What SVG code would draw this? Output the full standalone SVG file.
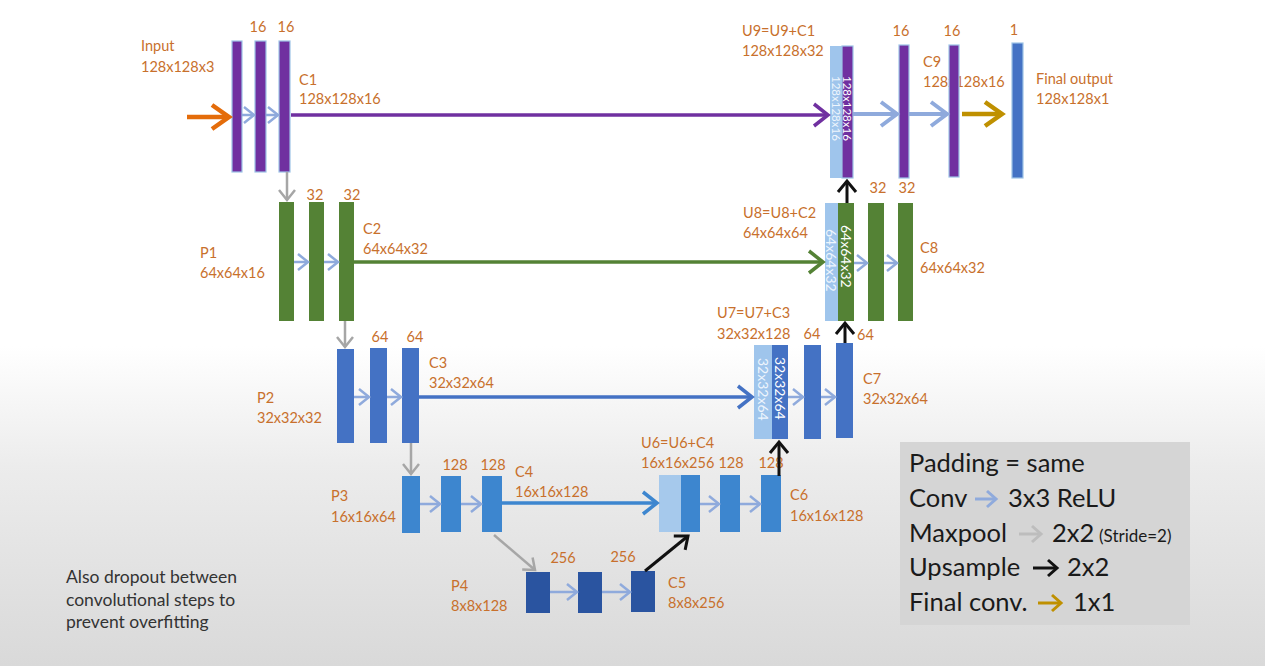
<svg xmlns="http://www.w3.org/2000/svg" width="1265" height="666" viewBox="0 0 1265 666">
<defs>
<linearGradient id="bg" x1="0" y1="0" x2="0" y2="1">
<stop offset="0" stop-color="#ffffff"/>
<stop offset="0.52" stop-color="#ffffff"/>
<stop offset="0.7" stop-color="#ececec"/>
<stop offset="1" stop-color="#d9d9d9"/>
</linearGradient>
<marker id="mP" viewBox="-20 -15 26 30" refX="0" refY="0" markerWidth="26" markerHeight="30" markerUnits="userSpaceOnUse" orient="auto"><path d="M-14,-11 L0,0 L-14,11" fill="none" stroke="#7030a0" stroke-width="3.5"/></marker>
<marker id="mG" viewBox="-20 -15 26 30" refX="0" refY="0" markerWidth="26" markerHeight="30" markerUnits="userSpaceOnUse" orient="auto"><path d="M-14,-11 L0,0 L-14,11" fill="none" stroke="#548235" stroke-width="3.5"/></marker>
<marker id="mB3" viewBox="-20 -15 26 30" refX="0" refY="0" markerWidth="26" markerHeight="30" markerUnits="userSpaceOnUse" orient="auto"><path d="M-14,-11 L0,0 L-14,11" fill="none" stroke="#4472c4" stroke-width="3.5"/></marker>
<marker id="mB4" viewBox="-20 -15 26 30" refX="0" refY="0" markerWidth="26" markerHeight="30" markerUnits="userSpaceOnUse" orient="auto"><path d="M-14,-11 L0,0 L-14,11" fill="none" stroke="#3d86cf" stroke-width="3.5"/></marker>
<marker id="mCB" viewBox="-22 -16 28 32" refX="0" refY="0" markerWidth="28" markerHeight="32" markerUnits="userSpaceOnUse" orient="auto"><path d="M-16,-12 L0,0 L-16,12" fill="none" stroke="#8faadc" stroke-width="4"/></marker>
<marker id="mGold" viewBox="-22 -16 28 32" refX="0" refY="0" markerWidth="28" markerHeight="32" markerUnits="userSpaceOnUse" orient="auto"><path d="M-17,-12 L0,0 L-17,12" fill="none" stroke="#bf9000" stroke-width="4.5"/></marker>
<marker id="mOr" viewBox="-22 -16 28 32" refX="0" refY="0" markerWidth="28" markerHeight="32" markerUnits="userSpaceOnUse" orient="auto"><path d="M-17,-12 L0,0 L-17,12" fill="none" stroke="#e46c0a" stroke-width="4.5"/></marker>
<marker id="mC" viewBox="-14 -11 18 22" refX="0" refY="0" markerWidth="18" markerHeight="22" markerUnits="userSpaceOnUse" orient="auto"><path d="M-10,-8 L0,0 L-10,8" fill="none" stroke="#8faadc" stroke-width="2.5"/></marker>
<marker id="mPool" viewBox="-14 -11 18 22" refX="0" refY="0" markerWidth="18" markerHeight="22" markerUnits="userSpaceOnUse" orient="auto"><path d="M-10,-8 L0,0 L-10,8" fill="none" stroke="#a6a6a6" stroke-width="2.5"/></marker>
<marker id="mUp" viewBox="-14 -12 18 24" refX="0" refY="0" markerWidth="18" markerHeight="24" markerUnits="userSpaceOnUse" orient="auto"><path d="M-11,-9 L0,0 L-11,9" fill="none" stroke="#111111" stroke-width="3"/></marker>
<marker id="lC" viewBox="-14 -12 18 24" refX="0" refY="0" markerWidth="18" markerHeight="24" markerUnits="userSpaceOnUse" orient="auto"><path d="M-9,-8 L0,0 L-9,8" fill="none" stroke="#8faadc" stroke-width="3"/></marker>
<marker id="lP" viewBox="-14 -12 18 24" refX="0" refY="0" markerWidth="18" markerHeight="24" markerUnits="userSpaceOnUse" orient="auto"><path d="M-9,-8 L0,0 L-9,8" fill="none" stroke="#bdbdbd" stroke-width="3"/></marker>
<marker id="lU" viewBox="-14 -12 18 24" refX="0" refY="0" markerWidth="18" markerHeight="24" markerUnits="userSpaceOnUse" orient="auto"><path d="M-9,-8 L0,0 L-9,8" fill="none" stroke="#111111" stroke-width="3"/></marker>
<marker id="lG" viewBox="-14 -12 18 24" refX="0" refY="0" markerWidth="18" markerHeight="24" markerUnits="userSpaceOnUse" orient="auto"><path d="M-9,-8 L0,0 L-9,8" fill="none" stroke="#bf9000" stroke-width="3"/></marker>
</defs>
<style>
text{font-family:Lato,"Liberation Sans",sans-serif}
.lbl{font-size:14.5px;fill:#c8702c}
.ctr{text-anchor:middle}
.vt{fill:#ffffff;dominant-baseline:central}
.vtl{fill:#eef5fd;dominant-baseline:central}
.leg{font-size:25.5px;fill:#1a1a1a}
.note{font-size:17.5px;fill:#333333}
.pu{fill:#7030a0;stroke:#9dc3e6;stroke-width:1.2}
.gr{fill:#548235}
.b3{fill:#4472c4}
.b4{fill:#3d86cf}
.b5{fill:#2a54a0}
.lt{fill:#9fc5ec}
.fin{fill:#4472c4;stroke:#9dc3e6;stroke-width:1.2}
.skP{stroke:#7030a0;stroke-width:3.5;fill:none}
.skG{stroke:#548235;stroke-width:3.5;fill:none}
.skB3{stroke:#4472c4;stroke-width:3.5;fill:none}
.skB4{stroke:#3d86cf;stroke-width:3.5;fill:none}
.cv{stroke:#8faadc;stroke-width:2.5;fill:none}
.cvb{stroke:#8faadc;stroke-width:4;fill:none}
.pl{stroke:#a6a6a6;stroke-width:2.5;fill:none}
.up{stroke:#111111;stroke-width:3;fill:none}
</style>
<rect x="0" y="0" width="1265" height="666" fill="url(#bg)"/>

<g id="input">
<text class="lbl" x="141" y="51">Input</text>
<text class="lbl" x="141" y="72">128x128x3</text>
</g>

<g id="c1">
<rect class="pu" x="232" y="41" width="10" height="131"/>
<rect class="pu" x="255" y="41" width="11" height="131"/>
<rect class="pu" x="279" y="41" width="11" height="131"/>
<text class="lbl ctr" x="258" y="32">16</text>
<text class="lbl ctr" x="286" y="32">16</text>
<text class="lbl" x="299" y="85">C1</text>
<text class="lbl" x="299" y="104">128x128x16</text>
</g>

<g id="p1c2">
<rect class="gr" x="279" y="202" width="15" height="119"/>
<rect class="gr" x="309" y="202" width="15" height="119"/>
<rect class="gr" x="339" y="202" width="15" height="119"/>
<text class="lbl ctr" x="315" y="200">32</text>
<text class="lbl ctr" x="352" y="200">32</text>
<text class="lbl" x="200" y="258">P1</text>
<text class="lbl" x="200" y="278">64x64x16</text>
<text class="lbl" x="363" y="234">C2</text>
<text class="lbl" x="363" y="254">64x64x32</text>
</g>

<g id="p2c3">
<rect class="b3" x="337" y="349" width="17" height="94"/>
<rect class="b3" x="370" y="348" width="17" height="95"/>
<rect class="b3" x="402" y="348" width="17" height="95"/>
<text class="lbl ctr" x="380" y="342">64</text>
<text class="lbl ctr" x="415" y="342">64</text>
<text class="lbl" x="257" y="403">P2</text>
<text class="lbl" x="257" y="423">32x32x32</text>
<text class="lbl" x="429" y="368">C3</text>
<text class="lbl" x="429" y="388">32x32x64</text>
</g>

<g id="p3c4">
<rect class="b4" x="402" y="476" width="18" height="57"/>
<rect class="b4" x="441" y="476" width="20" height="56"/>
<rect class="b4" x="482" y="476" width="20" height="56"/>
<text class="lbl ctr" x="455" y="470">128</text>
<text class="lbl ctr" x="493" y="470">128</text>
<text class="lbl" x="331" y="501">P3</text>
<text class="lbl" x="331" y="522">16x16x64</text>
<text class="lbl" x="515" y="477">C4</text>
<text class="lbl" x="515" y="497">16x16x128</text>
</g>

<g id="p4c5">
<rect class="b5" x="526" y="572" width="24" height="41"/>
<rect class="b5" x="578" y="572" width="24" height="41"/>
<rect class="b5" x="631" y="571" width="24" height="41"/>
<text class="lbl ctr" x="563" y="563">256</text>
<text class="lbl ctr" x="623" y="562">256</text>
<text class="lbl" x="451" y="591">P4</text>
<text class="lbl" x="451" y="611">8x8x128</text>
<text class="lbl" x="668" y="588">C5</text>
<text class="lbl" x="668" y="608">8x8x256</text>
</g>

<g id="u6c6">
<rect class="lt" x="659" y="475" width="22" height="57" opacity="0.9"/>
<rect class="b4" x="681" y="475" width="19" height="57"/>
<rect class="b4" x="720" y="475" width="20" height="57"/>
<rect class="b4" x="761" y="475" width="20" height="57"/>
<text class="lbl" x="641" y="448">U6=U6+C4</text>
<text class="lbl" x="641" y="468">16x16x256</text>
<text class="lbl ctr" x="731" y="468">128</text>
<text class="lbl ctr" x="771" y="468">128</text>
<text class="lbl" x="790" y="500">C6</text>
<text class="lbl" x="790" y="521">16x16x128</text>
</g>

<g id="u7c7">
<rect class="lt" x="754" y="345" width="18" height="94"/>
<rect class="b3" x="772" y="345" width="16" height="94"/>
<rect class="b3" x="804" y="345" width="17" height="94"/>
<rect class="b3" x="836" y="343" width="17" height="95"/>
<text class="vtl" font-size="14" transform="translate(763,358) rotate(90)">32x32x64</text>
<text class="vt" font-size="14" transform="translate(780,357) rotate(90)">32x32x64</text>
<text class="lbl" x="717" y="318">U7=U7+C3</text>
<text class="lbl" x="717" y="339">32x32x128</text>
<text class="lbl ctr" x="812" y="339">64</text>
<text class="lbl" x="857" y="340">64</text>
<text class="lbl" x="863" y="384">C7</text>
<text class="lbl" x="863" y="404">32x32x64</text>
</g>

<g id="u8c8">
<rect class="lt" x="825" y="203" width="13" height="118"/>
<rect class="gr" x="838" y="203" width="16" height="118"/>
<rect class="gr" x="868" y="203" width="16" height="118"/>
<rect class="gr" x="898" y="203" width="15" height="118"/>
<text class="vtl" font-size="14" transform="translate(831.5,229) rotate(90)">64x64x32</text>
<text class="vt" font-size="14" transform="translate(846,225) rotate(90)">64x64x32</text>
<text class="lbl" x="743" y="218">U8=U8+C2</text>
<text class="lbl" x="743" y="238">64x64x64</text>
<text class="lbl ctr" x="878" y="193">32</text>
<text class="lbl ctr" x="907" y="193">32</text>
<text class="lbl" x="920" y="253">C8</text>
<text class="lbl" x="920" y="273">64x64x32</text>
</g>

<g id="u9c9">
<text class="lbl" x="742" y="36">U9=U9+C1</text>
<text class="lbl" x="742" y="56">128x128x32</text>
<text class="lbl ctr" x="901" y="36">16</text>
<text class="lbl ctr" x="952" y="36">16</text>
<text class="lbl" x="923" y="67">C9</text>
<text class="lbl" x="923" y="87">128x128x16</text>
<rect class="lt" x="830" y="46" width="12" height="132"/>
<rect class="pu" x="842" y="46" width="11" height="132"/>
<rect class="pu" x="899" y="45" width="10" height="133"/>
<rect class="pu" x="949" y="45" width="10" height="132"/>
<text class="vtl" font-size="11.5" transform="translate(836,76) rotate(90)">128x128x16</text>
<text class="vt" font-size="11.5" transform="translate(847.5,76) rotate(90)">128x128x16</text>
</g>

<g id="output">
<rect class="fin" x="1012" y="43" width="11" height="135"/>
<text class="lbl ctr" x="1014" y="35">1</text>
<text class="lbl" x="1036" y="84">Final output</text>
<text class="lbl" x="1036" y="104">128x128x1</text>
</g>

<g id="connectors">
<line x1="187" y1="117" x2="229" y2="117" stroke="#e46c0a" stroke-width="4.5" marker-end="url(#mOr)"/>
<line class="skP" x1="291" y1="115" x2="828" y2="115" marker-end="url(#mP)"/>
<line class="skG" x1="354" y1="262" x2="823" y2="262" marker-end="url(#mG)"/>
<line class="skB3" x1="419" y1="397" x2="752" y2="397" marker-end="url(#mB3)"/>
<line class="skB4" x1="502" y1="503" x2="657" y2="503" marker-end="url(#mB4)"/>

<line class="cv" x1="242" y1="115" x2="254" y2="115" marker-end="url(#mC)"/>
<line class="cv" x1="266" y1="115" x2="278" y2="115" marker-end="url(#mC)"/>
<line class="cv" x1="294" y1="262" x2="308" y2="262" marker-end="url(#mC)"/>
<line class="cv" x1="324" y1="262" x2="338" y2="262" marker-end="url(#mC)"/>
<line class="cv" x1="354" y1="397" x2="369" y2="397" marker-end="url(#mC)"/>
<line class="cv" x1="387" y1="397" x2="401" y2="397" marker-end="url(#mC)"/>
<line class="cv" x1="420" y1="504" x2="440" y2="504" marker-end="url(#mC)"/>
<line class="cv" x1="461" y1="504" x2="481" y2="504" marker-end="url(#mC)"/>
<line class="cv" x1="550" y1="592" x2="577" y2="592" marker-end="url(#mC)"/>
<line class="cv" x1="602" y1="592" x2="630" y2="592" marker-end="url(#mC)"/>
<line class="cv" x1="700" y1="504" x2="719" y2="504" marker-end="url(#mC)"/>
<line class="cv" x1="740" y1="504" x2="760" y2="504" marker-end="url(#mC)"/>
<line class="cv" x1="788" y1="397" x2="803" y2="397" marker-end="url(#mC)"/>
<line class="cv" x1="821" y1="397" x2="835" y2="397" marker-end="url(#mC)"/>
<line class="cv" x1="854" y1="263" x2="867" y2="263" marker-end="url(#mC)"/>
<line class="cv" x1="884" y1="263" x2="897" y2="263" marker-end="url(#mC)"/>
<line class="cvb" x1="853" y1="114" x2="897" y2="114" marker-end="url(#mCB)"/>
<line class="cvb" x1="909" y1="114" x2="947" y2="114" marker-end="url(#mCB)"/>
<line x1="962" y1="114" x2="1002" y2="114" stroke="#bf9000" stroke-width="4.5" marker-end="url(#mGold)"/>

<line class="pl" x1="287" y1="172" x2="287" y2="200" marker-end="url(#mPool)"/>
<line class="pl" x1="345" y1="321" x2="345" y2="347" marker-end="url(#mPool)"/>
<line class="pl" x1="411" y1="443" x2="411" y2="474" marker-end="url(#mPool)"/>
<line class="pl" x1="494" y1="535" x2="535" y2="570" marker-end="url(#mPool)"/>

<line class="up" x1="645" y1="571" x2="688" y2="536" marker-end="url(#mUp)"/>
<line class="up" x1="779" y1="476" x2="779" y2="442" marker-end="url(#mUp)"/>
<line class="up" x1="845" y1="343" x2="845" y2="323" marker-end="url(#mUp)"/>
<line class="up" x1="847" y1="203" x2="847" y2="181" marker-end="url(#mUp)"/>
</g>

<g id="legend">
<rect x="900" y="442" width="290" height="183" fill="#d5d5d5"/>
<text class="leg" x="909" y="472">Padding = same</text>
<text class="leg" x="909" y="507">Conv</text>
<line x1="975" y1="499" x2="996" y2="499" stroke="#8faadc" stroke-width="3" marker-end="url(#lC)"/>
<text class="leg" x="1008" y="507">3x3 ReLU</text>
<text class="leg" x="909" y="542">Maxpool</text>
<line x1="1019" y1="534" x2="1041" y2="534" stroke="#bdbdbd" stroke-width="3" marker-end="url(#lP)"/>
<text class="leg" x="1052" y="542">2x2</text>
<text x="1099" y="542" font-size="17" fill="#1a1a1a">(Stride=2)</text>
<text class="leg" x="909" y="576">Upsample</text>
<line x1="1033" y1="568" x2="1057" y2="568" stroke="#111111" stroke-width="3" marker-end="url(#lU)"/>
<text class="leg" x="1067" y="576">2x2</text>
<text class="leg" x="909" y="611">Final conv.</text>
<line x1="1038" y1="603" x2="1061" y2="603" stroke="#bf9000" stroke-width="3" marker-end="url(#lG)"/>
<text class="leg" x="1073" y="611">1x1</text>
</g>

<g id="note">
<text class="note" x="66" y="583">Also dropout between</text>
<text class="note" x="66" y="606">convolutional steps to</text>
<text class="note" x="66" y="628">prevent overfitting</text>
</g>
</svg>
